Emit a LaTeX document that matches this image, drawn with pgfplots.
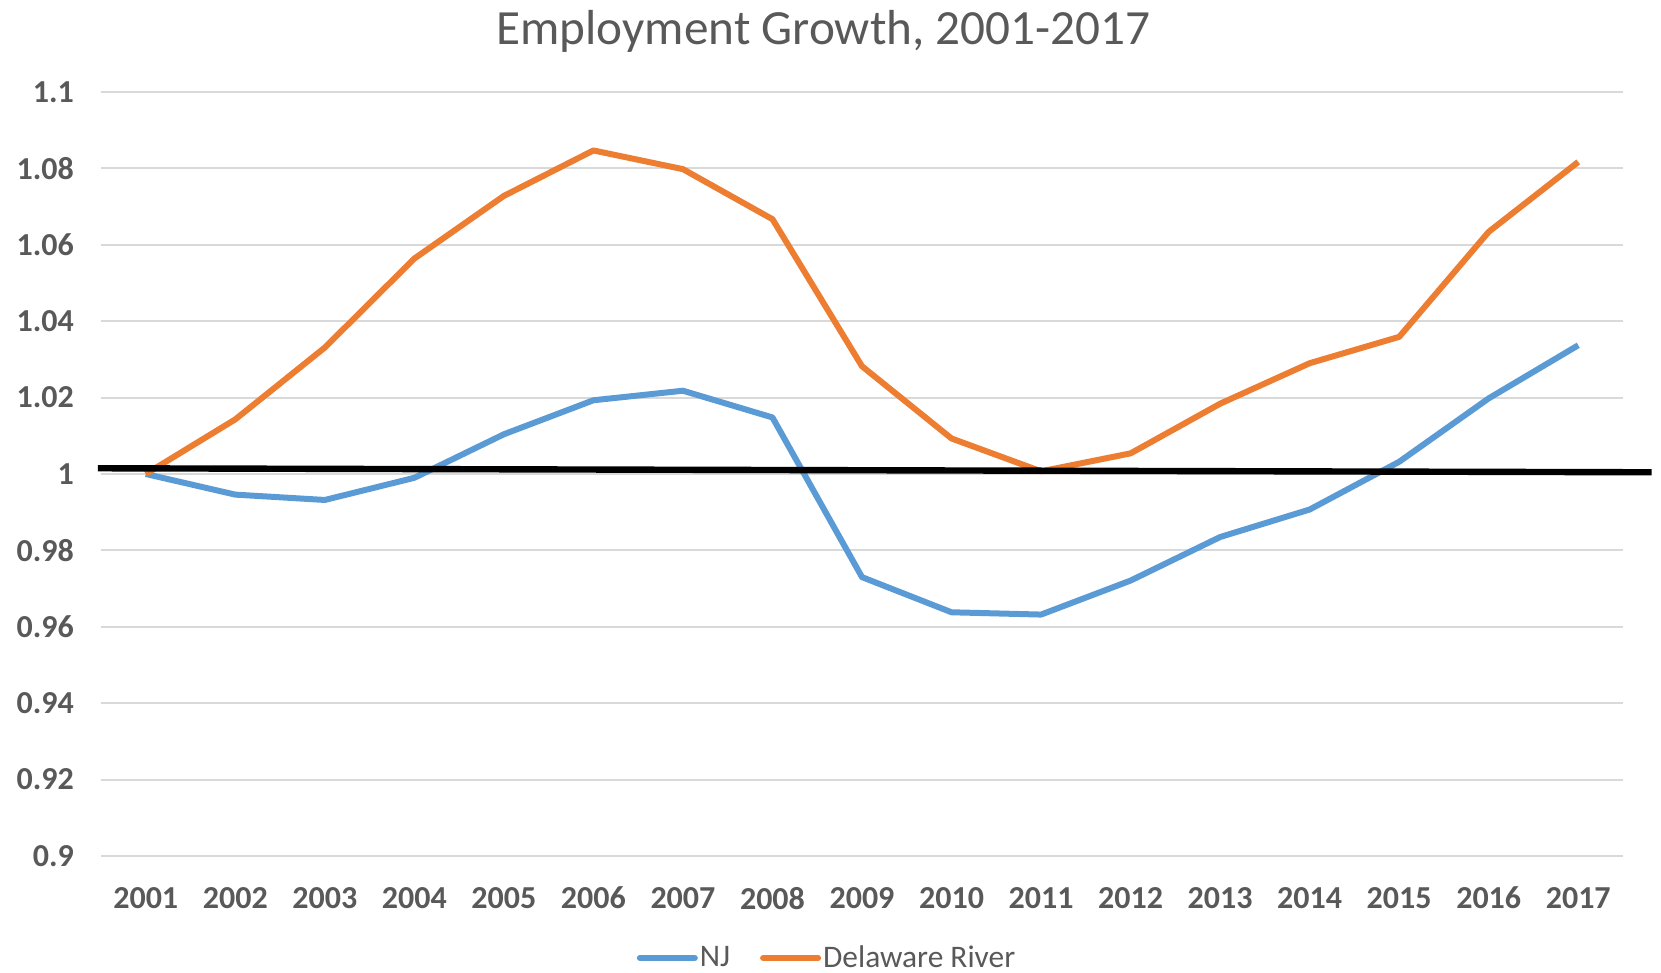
\documentclass[border=0pt]{standalone}
\usepackage{fontspec}
\setmainfont{Carlito}
\usepackage{pgfplots}
\pgfplotsset{compat=1.18}
\definecolor{njblue}{HTML}{5B9BD5}
\definecolor{drorange}{HTML}{ED7D31}
\definecolor{txtgray}{HTML}{595959}
\definecolor{gridgray}{HTML}{D9D9D9}
\begin{document}
\begin{tikzpicture}
\useasboundingbox (-50.5pt,-58.5pt) rectangle (780pt,428pt);
\begin{axis}[
  scale only axis=true,
  width=761pt, height=382pt,
  xmin=-0.5, xmax=16.5,
  ymin=0.9, ymax=1.1,
  ytick={0.9,0.92,...,1.1},
  xtick={0,...,16},
  xticklabels={2001,2002,2003,2004,2005,2006,2007,2008,2009,2010,2011,2012,2013,2014,2015,2016,2017},
  yticklabel style={/pgf/number format/fixed, /pgf/number format/precision=2, /pgf/number format/assume math mode=true},
  ticklabel style={font=\fontsize{16}{19}\selectfont\bfseries, text=txtgray},
  yticklabel style={xshift=-10pt},
  xticklabel style={yshift=-12pt},
  axis line style={draw=none},
  major tick length=0pt,
  ymajorgrids=true,
  grid style={gridgray, line width=1pt},
  clip=false,
  legend columns=2,
  legend style={draw=none, fill=none, at={(0.477,-0.1335)}, anchor=center,
    font=\fontsize{15.7}{18}\selectfont, text=txtgray,
    nodes={inner xsep=1pt},
    /tikz/every even column/.append style={column sep=14pt}},
  legend cell align=left,
  legend image code/.code={\draw[#1, line cap=round] (0pt,0pt) -- (27.5pt,0pt);},
]
\addplot[njblue, line width=3pt, line join=round] coordinates {
(0,1.0000) (1,0.9946) (2,0.9932) (3,0.9990) (4,1.0104) (5,1.0193) (6,1.0218) (7,1.0148)
(8,0.9730) (9,0.9638) (10,0.9632) (11,0.9721) (12,0.9835) (13,0.9907) (14,1.0032) (15,1.0198) (16,1.0337)};
\addlegendentry{NJ}
\addplot[drorange, line width=3pt, line join=round] coordinates {
(0,1.0000) (1,1.0143) (2,1.0331) (3,1.0564) (4,1.0728) (5,1.0847) (6,1.0798) (7,1.0667)
(8,1.0282) (9,1.0093) (10,1.0007) (11,1.0054) (12,1.0184) (13,1.0290) (14,1.0359) (15,1.0634) (16,1.0817)};
\addlegendentry{Delaware River}
\addplot[black, line width=3.2pt, forget plot] coordinates {(-0.536,1.0015) (16.82,1.00045)};
\node[font=\fontsize{24.6}{29}\selectfont, text=txtgray] at (axis cs:7.57,1.1) [yshift=30.25pt] {Employment Growth, 2001-2017};
\end{axis}
\end{tikzpicture}
\end{document}
